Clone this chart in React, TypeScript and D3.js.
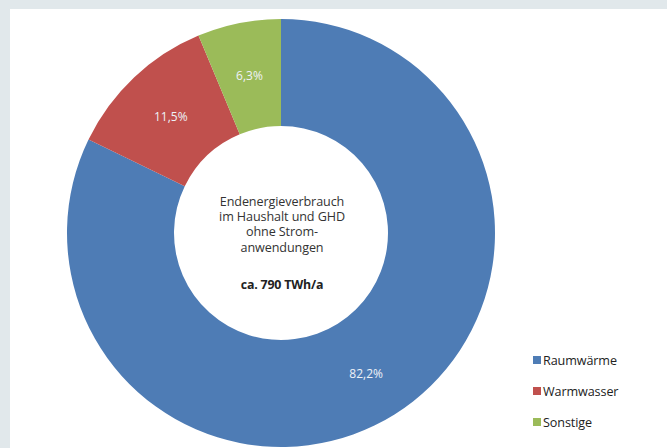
import React from "react";
import * as d3 from "d3";

const categories = ["Raumwärme", "Warmwasser", "Sonstige"];
const shares = [82.2, 11.5, 6.3];
const shareLabels = ["82,2%", "11,5%", "6,3%"];
const colors = ["#4e7cb5", "#c0504d", "#9bbb59"];
const centerLines = ["Endenergieverbrauch", "im Haushalt und GHD", "ohne Strom-", "anwendungen"];
const centerTotal = "ca. 790 TWh/a";

const W = 667;
const H = 448;
const cx = 281;
const cy = 233;
const outerR = 214;
const innerR = 107;

export default function App() {
  const pie = d3.pie<number>().sort(null).value((d) => d);
  const arcs = pie(shares);
  const arc = d3.arc<d3.PieArcDatum<number>>().innerRadius(innerR).outerRadius(outerR);
  const legendY = d3.scalePoint<string>().domain(categories).range([360, 422]);
  const lineY = d3.scaleLinear().domain([0, 3]).range([201, 247]);

  return (
    <svg
      width={W}
      height={H}
      style={{ position: "fixed", left: 0, top: 0, display: "block" }}
      fontFamily="'Open Sans', sans-serif"
    >
      <rect x={0} y={0} width={W} height={H} fill="#e1e8eb" />
      <rect x={10} y={9} width={W - 10} height={H - 9} fill="#ffffff" />
      <g transform={`translate(${cx},${cy})`}>
        {arcs.map((a, i) => (
          <path key={categories[i]} d={arc(a) || ""} fill={colors[i]} />
        ))}
        {arcs.map((a, i) => {
          const [x, y] = arc.centroid(a);
          return (
            <text
              key={"l" + i}
              x={x}
              y={y + (i === 0 ? 4 : 0)}
              textAnchor="middle"
              dominantBaseline="central"
              fill="#eef2f7"
              fontSize={12}
            >
              {shareLabels[i]}
            </text>
          );
        })}
      </g>
      {centerLines.map((t, i) => (
        <text
          key={t}
          x={cx + 1}
          y={lineY(i)}
          textAnchor="middle"
          dominantBaseline="central"
          fill="#333333"
          fontSize={12.6}
          letterSpacing={-0.1}
        >
          {t}
        </text>
      ))}
      <text
        x={cx + 1}
        y={284}
        textAnchor="middle"
        dominantBaseline="central"
        fill="#222222"
        fontSize={12.4}
        fontWeight="bold"
        letterSpacing={-0.2}
      >
        {centerTotal}
      </text>
      {categories.map((c, i) => (
        <g key={c} transform={`translate(533,${legendY(c)})`}>
          <rect x={0} y={-4} width={8} height={8} fill={colors[i]} />
          <text x={10} y={0} dominantBaseline="central" fill="#222222" fontSize={12.6} letterSpacing={-0.1}>
            {c}
          </text>
        </g>
      ))}
    </svg>
  );
}
